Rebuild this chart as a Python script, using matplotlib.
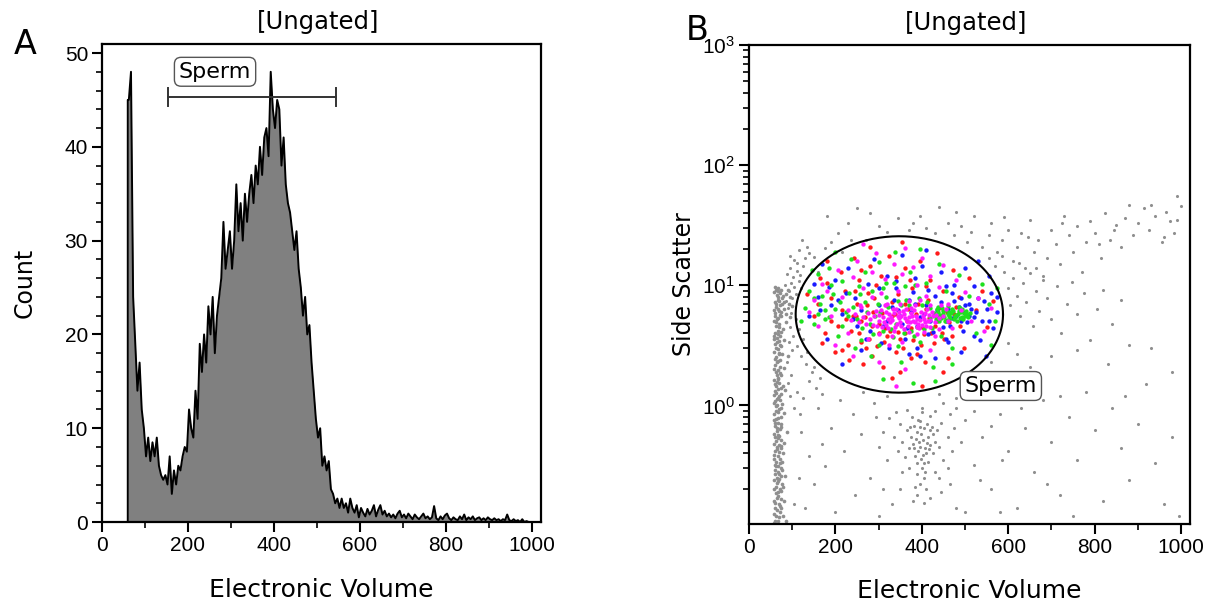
import numpy as np
import matplotlib
matplotlib.use("Agg")
import matplotlib.pyplot as plt
from matplotlib.ticker import MultipleLocator, LogLocator

plt.rcParams['font.family'] = ['DejaVu Sans']
plt.rcParams['mathtext.default'] = 'regular'

# ---- panel A: histogram of electronic volume (5-unit bins from 60) ----
bin_start = 60
bin_width = 5
counts = [
    45, 48, 24, 19, 14, 17, 12, 10, 7, 9, 6.5, 8.5, 7, 9, 6, 5, 4.5, 5, 4, 7,
    3, 5.5, 4, 6, 5.5, 7, 8, 7.5, 12, 10, 9, 14, 11, 19, 16, 20, 17, 23, 20, 24,
    18, 22, 24, 26, 32, 27, 29, 31, 27, 30, 36, 31, 34, 30, 35, 32, 35, 37, 34, 38,
    36, 40, 37, 41, 42, 39, 48, 44, 42, 45, 44, 38, 41, 36, 34, 33, 31, 29, 31, 27,
    25, 22, 24, 20, 21, 17, 14, 11, 9, 10, 6, 7, 5.5, 6.5, 3.5, 3, 2, 2.5, 1.5, 2.5,
    1.5, 2, 1, 2.5, 1.5, 1, 1.8, 0.5, 1.5, 1, 0.6, 1.4, 0.8, 1.2, 1.8, 0.6, 1.3, 1.8,
    0.8, 1.2, 0.6, 0.9, 0.5, 0.8, 0.4, 0.9, 1.2, 0.5, 0.8, 0.4, 0.9, 0.6, 0.3, 0.8,
    0.5, 0.3, 0.6, 0.9, 0.4, 0.6, 0.3, 0.5, 1.7, 0.4, 0.2, 0.6, 0.3, 0.7, 0.9, 0.4,
    0.2, 0.5, 0.3, 0.2, 0.6, 0.3, 0.8, 0.2, 0.5, 0.3, 0.6, 0.2, 0.4, 0.5, 0.2, 0.4,
    0.2, 0.5, 0.3, 0.2, 0.4, 0.2, 0.3, 0.1, 0.3, 0.2, 0.8, 0.2, 0.1, 0.3, 0.1, 0.2,
    0.0, 0.3, 0.0, 0.1, 0.0, 0.0,
]
gate_a = (154, 545, 45.3)   # start, end, height of the "Sperm" range gate

# ---- panel B: side scatter vs electronic volume events ----
gray_streak = [
    (60,0.11),(63,0.12),(66,0.11),(72,0.13),(78,0.12),(85,0.11),(61,0.14),(69,0.15),(74,0.14),(64,0.17),
    (58,0.16),(80,0.16),(67,0.19),(62,0.21),(71,0.20),(76,0.22),(59,0.24),(65,0.25),(70,0.27),(83,0.26),
    (61,0.29),(68,0.31),(74,0.30),(63,0.34),(58,0.36),(66,0.38),(72,0.36),(79,0.40),(60,0.42),(64,0.45),
    (70,0.47),(62,0.51),(67,0.54),(75,0.52),(59,0.58),(65,0.61),(71,0.64),(88,0.60),(61,0.68),(68,0.72),
    (63,0.77),(73,0.80),(58,0.84),(66,0.88),(70,0.93),(62,0.98),(77,1.02),(60,1.08),(65,1.12),(69,1.20),
    (74,1.25),(61,1.31),(67,1.38),(84,1.35),(63,1.46),(70,1.55),(59,1.62),(66,1.70),(75,1.78),(62,1.88),
    (68,1.97),(80,2.05),(60,2.15),(65,2.28),(72,2.40),(63,2.52),(70,2.66),(90,2.60),(58,2.80),(67,2.95),
    (74,3.10),(61,3.25),(69,3.42),(82,3.50),(64,3.62),(72,3.80),(60,3.98),(67,4.20),(78,4.35),(62,4.55),
    (70,4.78),(86,4.90),(59,5.05),(66,5.30),(74,5.55),(95,5.40),(61,5.85),(69,6.10),(80,6.30),(63,6.60),
    (72,6.90),(100,6.70),(60,7.20),(67,7.60),(76,7.90),(64,8.30),(71,8.70),(85,8.50),(62,9.10),(68,9.50),
    (57,0.125),(69,0.118),(75,0.165),(62,0.185),(79,0.21),(68,0.235),(73,0.26),(60,0.32),(77,0.34),(69,0.41),
    (74,0.44),(58,0.48),(81,0.49),(66,0.57),(73,0.70),(59,0.75),(80,0.86),(64,1.00),(72,1.10),(58,1.22),
    (79,1.45),(64,1.58),(72,1.85),(58,2.00),(66,2.35),(76,2.70),(62,3.00),(71,3.20),(57,3.55),(66,3.90),
    (75,4.10),(63,4.95),(71,5.70),(58,6.20),(77,7.00),(66,8.00),(59,8.80),
    (58,0.105),(65,0.135),(71,0.145),(60,0.155),(66,0.175),(73,0.195),(59,0.20),(64,0.225),(70,0.245),(61,0.27),
    (67,0.28),(76,0.29),(63,0.31),(71,0.33),(59,0.39),(65,0.43),(75,0.46),(61,0.55),(70,0.56),(64,0.65),
    (74,0.66),(60,0.71),(68,0.79),(62,0.90),(74,0.96),(59,1.04),(67,1.16),(63,1.28),(73,1.40),(60,1.52),
    (68,1.65),(64,1.80),(71,2.10),(61,2.45),(69,2.75),(64,3.35),(59,3.75),(69,4.45),(64,5.20),(60,5.50),
    (67,6.40),(73,6.00),(62,7.00),(70,7.40),(80,7.30),(66,8.90),(74,9.20),(60,9.60),(78,8.10),(90,9.20),
    (95,8.00),(85,5.80),(92,7.00),
]
gray_fan = [
    (88,12.5),(95,14.0),(102,11.8),(110,13.2),(97,10.4),(105,9.6),(115,10.9),(92,8.9),(100,7.8),(108,8.4),
    (118,12.1),(125,14.5),(84,10.0),(90,6.5),(98,5.9),(86,7.4),(104,16.2),(130,16.8),(140,18.5),(96,17.5),
    (112,15.2),(120,9.4),(94,4.5),(102,3.8),(110,3.1),(120,2.6),(132,2.2),(146,1.9),(100,2.9),(92,3.4),
    (115,4.3),(108,5.2),(125,3.6),(140,1.6),(155,1.4),(98,1.8),(112,1.3),(126,1.15),(90,1.55),(104,0.95),
    (135,2.8),(150,2.1),(165,1.7),(170,1.25),(88,2.3),(94,1.2),(119,0.85),(160,12.8),(150,17.2),(175,20.5),
    (135,21.0),(115,19.5),(122,24.0),
]
gray_upper = [
    (205,27),(230,33),(250,44),(270,24),(300,31),(320,28),(345,36),(370,29),(395,38),(410,30),
    (440,45),(430,27),(460,33),(475,26),(490,31),(505,23),(515,28),(520,38),(540,21),(555,26),
    (560,33),(575,19),(585,24),(600,29),(610,16),(620,21),(630,27),(640,14),(650,35),(660,19),
    (670,24),(680,12),(690,17),(700,29),(710,22),(720,15),(730,38),(740,26),(750,19),(760,31),
    (770,13),(780,23),(790,34),(800,27),(815,17),(825,40),(835,24),(845,29),(860,21),(870,36),
    (880,47),(890,26),(900,33),(915,44),(925,29),(940,38),(955,23),(965,41),(975,34),(985,27),
    (990,55),(1000,46),(990,35),(960,25),(930,47),(850,32),(810,22),(725,33),(645,25),(590,37),
    (555,17),(480,41),(380,33),(280,40),(235,24),(180,38),(215,19),(190,23),
    (590,13),(600,9.5),(605,6.8),(612,11.5),(620,8.2),(628,5.6),(635,10.4),(642,7.3),(650,12.6),(658,4.6),
    (664,9.0),(672,6.1),(680,11.0),(690,7.8),(700,5.2),(712,9.8),(722,4.0),(735,7.0),(748,10.6),(760,5.8),
    (775,8.6),(790,3.5),(805,6.4),(820,9.2),(840,4.8),(860,7.5),(880,3.2),(600,3.3),(620,2.7),(560,2.3),
    (540,1.8),(595,1.7),(650,2.1),(700,2.6),(760,2.9),(830,2.2),(930,3.0),(980,1.9),(570,14.5),(585,17.5),
    (625,15.2),(665,13.8),
]
gray_lower = [
    (395,0.45),(402,0.52),(388,0.60),(410,0.40),(380,0.48),(415,0.55),(398,0.36),(405,0.65),(392,0.42),(420,0.47),
    (385,0.38),(412,0.70),(400,0.30),(425,0.58),(375,0.55),(390,0.33),(408,0.28),(418,0.62),(370,0.44),(430,0.50),
    (396,0.74),(382,0.68),(414,0.34),(404,0.25),(388,0.27),(426,0.40),(436,0.62),(365,0.62),(440,0.45),(360,0.37),
    (445,0.72),(355,0.50),(450,0.35),(378,0.80),(420,0.82),(400,0.88),(350,0.70),(460,0.55),(345,0.42),(465,0.85),
    (395,0.22),(410,0.20),(385,0.21),(430,0.28),(370,0.30),(440,0.25),(355,0.28),(460,0.30),(335,0.55),(470,0.42),
    (325,0.78),(475,0.65),(340,0.88),(480,0.95),(400,0.95),(430,0.90),(365,0.92),(390,0.18),(420,0.17),(405,0.155),
    (380,0.16),(445,0.19),(350,0.20),(465,0.22),(320,0.35),(310,0.60),(300,0.45),(490,0.50),(500,0.75),(295,0.80),
    (398,0.58),(407,0.44),(393,0.50),(402,0.39),(412,0.49),(386,0.53),(397,0.66),(417,0.43),(383,0.44),(423,0.66),
    (373,0.66),(404,0.33),(392,0.76),
    (130,0.14),(150,0.22),(175,0.31),(200,0.13),(220,0.42),(245,0.18),(260,0.58),(280,0.25),(300,0.12),(240,0.85),
    (210,1.1),(190,0.65),(170,0.48),(160,0.95),(140,0.38),(120,0.6),(115,0.25),(105,0.15),(265,1.3),(290,1.05),
    (320,1.2),(330,0.15),(310,0.2),(500,0.13),(520,0.32),(540,0.55),(560,0.20),(580,0.85),(600,0.42),(620,0.14),
    (640,0.65),(660,0.28),(680,1.1),(700,0.50),(720,0.18),(740,0.80),(760,0.35),(780,1.3),(800,0.62),(820,0.16),
    (840,0.95),(860,0.44),(880,0.24),(900,0.70),(920,1.5),(940,0.33),(960,0.15),(980,0.55),(995,0.12),(510,1.2),
    (550,1.4),(480,1.15),(450,1.05),(520,0.9),(560,0.68),(610,1.8),(660,1.45),(720,1.2),(870,1.2),(750,0.12),
    (480,0.14),(535,0.24),(585,0.35),(630,0.95),(690,0.22),(580,0.13),(440,1.25),
]
red_events = [
    (235,4.2),(248,5.6),(260,3.4),(272,6.8),(284,4.6),(296,3.1),(308,5.9),(320,3.8),(332,7.2),(344,4.1),
    (356,3.0),(368,6.3),(380,3.5),(392,7.0),(404,3.9),(416,5.3),(428,3.3),(440,6.5),(452,3.6),(464,4.9),
    (290,7.8),(315,4.4),(340,2.8),(365,5.0),(390,2.7),(415,7.6),(270,3.0),(250,7.0),(300,4.0),(330,5.5),
    (360,4.0),(400,4.5),(430,4.6),(475,5.8),(260,5.0),
    (240,5.6),(255,4.0),(268,5.4),(278,3.6),(288,6.0),(302,4.8),(312,3.4),(318,6.8),(326,4.2),(338,5.8),
    (350,3.6),(362,7.0),(374,4.4),(386,5.8),(398,3.2),(410,6.4),(422,4.0),(436,5.0),(446,4.0),(458,6.0),
    (470,3.8),(480,6.6),(488,4.6),(215,6.2),(205,4.6),(190,5.0),(180,10.5),(160,7.0),(170,3.3),(245,9.0),
    (275,8.6),(305,12.0),(345,8.5),(372,11.0),(410,9.8),(230,3.2),(215,2.9),(285,2.6),(375,2.5),(260,13.5),
    (135,8.5),(150,5.6),(165,11.5),(175,4.0),(190,7.8),(200,2.8),(212,13.0),(222,9.0),(232,2.4),(242,16.8),
    (255,11.0),(265,2.2),(280,14.5),(295,10.0),(310,2.1),(325,17.5),(340,11.8),(350,1.9),(362,14.0),(378,9.4),
    (395,16.0),(408,2.3),(420,11.0),(435,18.5),(448,9.0),(460,2.5),(472,13.5),(485,8.0),(497,3.0),(510,11.5),
    (525,6.2),(540,9.0),(552,4.5),(565,7.4),(330,1.7),(400,1.45),(280,21.0),(180,16.0),(355,23.0),(225,5.2),
    (450,1.9),
]
blue_events = [
    (320,5.0),(345,6.2),(365,4.4),(385,7.0),(405,5.8),(425,4.1),(445,7.2),(465,4.6),(485,6.6),(505,4.9),
    (515,6.4),(495,4.2),(475,7.4),(455,5.0),(435,6.2),(415,3.9),(395,5.4),(375,6.0),(355,4.8),(335,7.6),
    (520,5.4),(510,7.0),(500,6.0),(490,5.0),(470,5.3),(450,4.5),(430,8.2),(360,3.6),(300,6.8),(280,4.2),
    (310,4.6),(330,6.6),(350,5.6),(370,7.6),(390,4.6),(410,6.8),(420,5.0),(440,5.6),(460,6.4),(480,5.6),
    (500,6.8),(510,5.6),(525,6.0),(530,7.8),(540,5.0),(550,6.4),(560,8.6),(490,7.8),(470,8.6),(455,9.8),
    (260,6.2),(240,5.2),(225,8.6),(205,7.6),(185,9.6),(165,6.2),(150,10.2),(380,8.8),(340,10.8),(300,9.4),
    (270,3.6),(325,3.0),(395,2.6),(455,3.6),(520,3.8),(575,8.0),(555,5.0),
    (140,5.6),(160,8.0),(180,3.6),(200,11.0),(215,5.8),(230,13.8),(245,7.8),(260,2.9),(275,10.2),(290,16.5),
    (305,3.3),(320,12.0),(340,9.5),(355,18.0),(370,2.7),(385,11.5),(400,14.5),(415,9.2),(430,2.5),(445,12.8),
    (460,3.4),(475,10.0),(490,2.8),(500,14.0),(520,9.8),(535,3.5),(545,7.4),(555,12.0),(565,4.4),(575,6.0),
    (548,2.6),(530,16.0),(250,4.6),(190,6.8),(170,15.0),(215,2.2),(390,3.0),(410,19.5),
]
green_events = [
    (432,5.6),(438,6.0),(444,5.3),(450,5.8),(456,6.2),(462,5.5),(468,5.9),(474,5.2),(480,5.7),(486,6.1),
    (492,5.4),(498,5.9),(446,6.5),(458,5.1),(470,6.4),(482,5.0),(494,6.3),(440,5.0),(452,5.4),(464,6.0),
    (476,5.6),(488,5.3),(500,5.5),(435,6.3),(505,5.8),
    (434,5.2),(442,5.7),(448,6.1),(454,5.0),(460,5.8),(466,5.3),(472,6.1),(478,5.4),(484,5.8),(490,6.0),
    (496,5.2),(502,6.1),(508,5.4),(437,6.6),(461,6.7),(485,6.6),(512,5.9),(428,5.9),(420,5.3),
    (250,5.2),(262,4.4),(274,6.0),(286,3.9),(298,7.0),(310,4.2),(322,6.6),(334,3.7),(346,7.4),(358,4.0),
    (370,6.8),(382,3.8),(394,7.8),(406,4.3),(418,6.5),(268,7.2),(292,5.6),(316,8.0),(340,4.8),(364,7.6),
    (388,4.5),(412,7.2),(280,4.8),(304,6.0),(328,4.3),(352,6.8),(376,4.2),(400,6.8),(424,4.4),
    (230,5.5),(240,6.6),(215,4.6),(200,6.4),(185,5.4),(170,8.2),(190,10.0),(258,8.5),(285,9.0),(310,9.5),
    (335,10.5),(360,9.8),(385,10.0),(260,3.5),(300,3.2),(345,3.1),(395,3.4),(445,3.8),(232,8.6),(210,7.2),
    (175,6.2),(150,7.8),(160,5.8),
    (130,6.5),(140,9.0),(150,4.8),(160,12.5),(165,7.0),(175,5.2),(185,14.0),(195,8.4),(205,3.8),(215,10.8),
    (225,6.0),(235,16.5),(245,3.0),(255,9.8),(268,12.8),(282,2.6),(300,15.5),(318,10.5),(338,19.0),(352,2.3),
    (372,13.0),(395,20.0),(410,10.5),(425,2.1),(440,15.0),(455,9.0),(470,3.0),(485,12.2),(510,8.2),(525,4.0),
    (540,10.2),(555,7.0),(570,5.0),(575,9.4),(310,1.65),(380,1.55),(430,1.6),(470,2.2),(560,3.2),(120,5.0),
    (200,19.0),(145,13.5),
]
magenta_events = [
    (300,5.0),(310,5.4),(318,4.7),(325,5.8),(332,5.1),(338,4.5),(345,5.6),(350,4.9),(356,6.1),(362,5.3),
    (368,4.6),(374,5.9),(380,5.0),(386,5.5),(392,4.8),(398,6.0),(404,5.2),(410,4.6),(416,5.7),(305,6.2),
    (322,4.4),(340,6.4),(358,4.3),(376,6.5),(394,4.4),(412,6.3),(296,4.6),(328,5.4),(348,5.3),(366,5.0),
    (384,4.9),(402,5.6),(420,5.1),(290,5.5),(312,4.9),(335,5.9),(353,5.5),(371,5.4),(389,5.2),(407,4.9),
    (425,5.5),(280,5.2),(270,4.8),(430,4.9),(440,5.3),
    (302,5.7),(308,4.5),(316,6.0),(321,5.2),(327,4.9),(333,6.3),(342,4.8),(347,6.0),(352,4.6),(359,5.8),
    (364,6.3),(372,4.9),(378,5.6),(383,6.2),(388,4.5),(396,5.1),(400,4.7),(408,5.9),(414,5.0),(418,4.5),
    (423,6.0),(433,5.7),(286,4.7),(294,6.1),(276,5.9),(265,5.4),(255,4.9),(246,5.8),(237,5.1),(450,5.6),
    (460,5.0),(335,4.2),(370,4.1),(405,4.1),(315,6.8),(350,7.0),(385,6.9),(420,6.8),(260,6.6),(455,6.3),
    (330,3.8),(390,3.9),(300,3.9),(440,4.3),
    (150,7.5),(170,10.2),(190,5.5),(205,13.5),(215,8.0),(230,4.0),(240,11.8),(250,16.0),(258,6.8),(265,9.5),
    (275,3.6),(285,13.0),(295,18.5),(305,8.6),(315,11.2),(325,3.2),(335,15.0),(345,9.0),(355,12.5),(360,20.5),
    (370,7.4),(380,14.2),(390,10.0),(400,17.0),(410,8.2),(420,12.0),(430,3.8),(440,9.6),(450,14.8),(460,7.0),
    (470,4.4),(480,11.0),(490,6.2),(500,8.8),(515,5.0),(530,7.8),(545,4.2),(560,6.5),(240,2.6),(300,2.3),
    (360,2.0),(420,2.9),(340,1.45),(200,3.2),(180,9.0),(160,4.6),(140,6.0),(265,22.0),(320,7.0),(395,7.6),
    (355,3.4),(285,8.0),(230,6.2),(445,6.8),
]
# elliptical "Sperm" gate: centre x, half width, centre log10(y), half height in decades
gate_b = (348, 240, 0.757, 0.651)

fig = plt.figure(figsize=(12.11, 6.08), dpi=100)
axA = fig.add_axes([0.0842, 0.1414, 0.3625, 0.7862])
axB = fig.add_axes([0.6185, 0.1382, 0.3642, 0.7878])

tick_family = ['Liberation Sans', 'DejaVu Sans']
tick_size = 15

# panel A
centers = bin_start + bin_width * (np.arange(len(counts)) + 0.5)
hx = np.concatenate([[bin_start, bin_start], centers])
hy = np.concatenate([[0, counts[0]], counts])
axA.fill_between(hx, hy, 0, color='#808080', lw=0)
axA.plot(hx, hy, color='black', lw=1.4)
axA.set_xlim(0, 1021)
axA.set_ylim(0, 50.96)
axA.xaxis.set_major_locator(MultipleLocator(200))
axA.xaxis.set_minor_locator(MultipleLocator(100))
axA.yaxis.set_major_locator(MultipleLocator(10))
axA.yaxis.set_minor_locator(MultipleLocator(2))

g0, g1, gh = gate_a
axA.plot([g0, g1], [gh, gh], color='#333333', lw=1.4)
axA.plot([g0, g0], [gh - 1, gh + 1], color='#333333', lw=1.4)
axA.plot([g1, g1], [gh - 1, gh + 1], color='#333333', lw=1.4)
axA.text(263, 48.0, 'Sperm', fontsize=16, ha='center', va='center',
         bbox=dict(boxstyle='round,pad=0.2,rounding_size=0.3', fc='white', ec='#555555', lw=1))

axA.set_ylabel('Count', fontsize=17)
axA.yaxis.set_label_coords(-0.148, 0.5)
axA.set_xlabel('Electronic Volume', fontsize=18)
axA.xaxis.set_label_coords(0.5, -0.117)
axA.text(0.492, 1.046, '[Ungated]', transform=axA.transAxes, fontsize=17.5,
         ha='center', va='center')

# panel B
def unpack(events):
    xs, ys = zip(*events)
    return np.array(xs, dtype=float), np.array(ys, dtype=float)

sx, sy = unpack(gray_streak)
axB.scatter(sx, sy, s=7, color='#8f8f8f', linewidths=0)
for grp in (gray_fan, gray_upper, gray_lower):
    gx, gy = unpack(grp)
    axB.scatter(gx, gy, s=5, color='#8f8f8f', linewidths=0)
for grp, col in ((red_events, '#ff1a1a'), (blue_events, '#1a1aff'),
                 (green_events, '#1ee01e'), (magenta_events, '#ff1aff')):
    cx_, cy_ = unpack(grp)
    axB.scatter(cx_, cy_, s=10, color=col, linewidths=0)

ecx, ea, ecy, eb = gate_b
t = np.linspace(0, 2 * np.pi, 300)
axB.plot(ecx + ea * np.cos(t), 10 ** (ecy + eb * np.sin(t)), color='black', lw=1.5)
axB.text(583, 1.45, 'Sperm', fontsize=16, ha='center', va='center',
         bbox=dict(boxstyle='round,pad=0.2,rounding_size=0.3', fc='white', ec='#555555', lw=1))

axB.set_yscale('log')
axB.set_xlim(0, 1021)
axB.set_ylim(0.103, 1000)
axB.xaxis.set_major_locator(MultipleLocator(200))
axB.xaxis.set_minor_locator(MultipleLocator(100))
axB.yaxis.set_major_locator(LogLocator(base=10, numticks=10))
axB.yaxis.set_minor_locator(LogLocator(base=10, subs=np.arange(2, 10), numticks=10))

axB.set_ylabel('Side Scatter', fontsize=17)
axB.yaxis.set_label_coords(-0.120, 0.5)
axB.set_xlabel('Electronic Volume', fontsize=18)
axB.xaxis.set_label_coords(0.5, -0.115)
axB.text(0.492, 1.046, '[Ungated]', transform=axB.transAxes, fontsize=17.5,
         ha='center', va='center')

for ax in (axA, axB):
    for sp in ax.spines.values():
        sp.set_linewidth(1.6)
    ax.tick_params(which='major', direction='out', length=7, width=1.5, pad=3)
    ax.tick_params(which='minor', direction='out', length=4, width=1.2)
    for lab in ax.get_xticklabels() + ax.get_yticklabels():
        lab.set_fontfamily(tick_family)
        lab.set_fontsize(tick_size)

fig.text(25 / 1211, 1 - 44 / 608, 'A', fontsize=24, ha='center', va='center')
fig.text(697 / 1211, 1 - 31 / 608, 'B', fontsize=24, ha='center', va='center')

fig.savefig('out.png', dpi=100)
